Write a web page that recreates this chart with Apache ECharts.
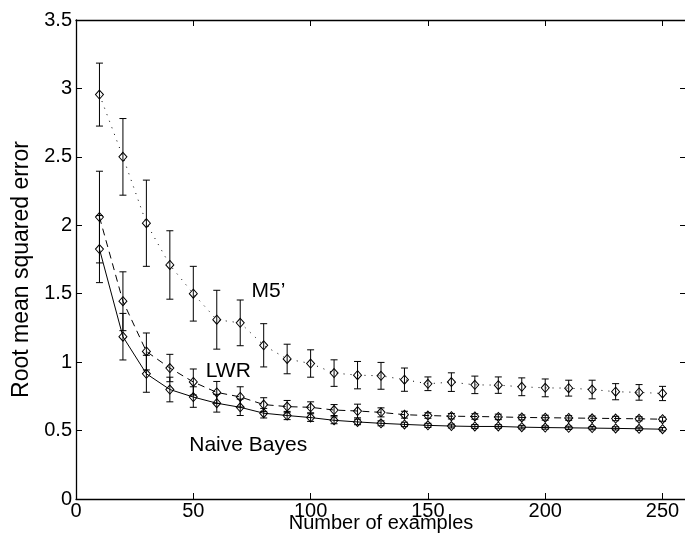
<!DOCTYPE html>
<html>
<head>
<meta charset="utf-8">
<script src="https://cdn.jsdelivr.net/npm/echarts@6/dist/echarts.min.js"></script>
<style>html,body{margin:0;padding:0;background:#fff}#c{width:685px;height:533px}</style>
</head>
<body>
<div id="c"></div>
<script>
var examples = [10,20,30,40,50,60,70,80,90,100,110,120,130,140,150,160,170,180,190,200,210,220,230,240,250];
var m5Mean = [2.955,2.50,2.015,1.71,1.50,1.31,1.287,1.123,1.023,0.99,0.92,0.905,0.90,0.872,0.842,0.854,0.834,0.832,0.82,0.812,0.81,0.80,0.784,0.779,0.771];
var m5Err  = [0.23,0.28,0.315,0.25,0.20,0.215,0.167,0.158,0.108,0.10,0.097,0.10,0.098,0.085,0.05,0.068,0.064,0.06,0.065,0.065,0.058,0.068,0.059,0.057,0.052];
var lwrMean = [2.06,1.445,1.078,0.957,0.855,0.779,0.746,0.69,0.675,0.67,0.65,0.643,0.633,0.616,0.61,0.605,0.603,0.60,0.596,0.594,0.592,0.59,0.588,0.586,0.583];
var lwrErr  = [0.335,0.215,0.135,0.10,0.095,0.08,0.074,0.05,0.045,0.04,0.04,0.05,0.033,0.025,0.02,0.02,0.02,0.02,0.018,0.018,0.017,0.016,0.016,0.015,0.015];
var nbMean = [1.826,1.186,0.915,0.80,0.745,0.70,0.67,0.627,0.61,0.595,0.575,0.563,0.553,0.545,0.538,0.533,0.53,0.53,0.525,0.522,0.52,0.518,0.516,0.513,0.51];
var nbErr  = [0.245,0.17,0.135,0.09,0.075,0.065,0.06,0.035,0.03,0.028,0.025,0.02,0.018,0.016,0.015,0.014,0.014,0.013,0.013,0.012,0.012,0.012,0.012,0.012,0.012];
var xTicks = [0,50,100,150,200,250];
var yTicks = [0,0.5,1,1.5,2,2.5,3,3.5];
var seriesNames = ["M5’","LWR","Naive Bayes"];
var annotations = [[82,1.515,"M5’"],[64.9,0.934,"LWR"],[73.4,0.392,"Naive Bayes"]];

var FONT = 'Liberation Sans';
function pts(mean){ return examples.map(function(x,i){return [x, mean[i]];}); }
function bars(mean, err){ return examples.map(function(x,i){return [x, mean[i]-err[i], mean[i]+err[i]];}); }

function renderErr(params, api){
  var x = api.value(0);
  var lo = api.coord([x, api.value(1)]);
  var hi = api.coord([x, api.value(2)]);
  var h = 3.5;
  var st = {stroke:'#000', lineWidth:1};
  return {type:'group', children:[
    {type:'line', shape:{x1:lo[0],y1:lo[1],x2:hi[0],y2:hi[1]}, style:st},
    {type:'line', shape:{x1:lo[0]-h,y1:lo[1],x2:lo[0]+h,y2:lo[1]}, style:st},
    {type:'line', shape:{x1:hi[0]-h,y1:hi[1],x2:hi[0]+h,y2:hi[1]}, style:st}
  ]};
}
function renderText(params, api){
  var p = api.coord([api.value(0), api.value(1)]);
  return {type:'text', x:p[0], y:p[1], style:{text:annotations[params.dataIndex][2], fill:'#000',
    font:'21px "' + FONT + '"', align:'center', verticalAlign:'middle'}};
}

function lineSeries(name, mean, type){
  return {
    name:name, type:'line', data:pts(mean), symbol:'diamond', symbolSize:[8,9],
    showAllSymbol:true, z:3,
    lineStyle:{color:'#000', width:1, type:type},
    itemStyle:{color:'rgba(255,255,255,0)', borderColor:'#000', borderWidth:1},
    emphasis:{disabled:true}, animation:false
  };
}
function errSeries(mean, err){
  return {type:'custom', renderItem:renderErr, data:bars(mean, err), z:2, animation:false, silent:true,
    encode:{x:0, y:[1,2]}};
}

var axisLineStyle = {color:'#000', width:1.3};
var chart = echarts.init(document.getElementById('c'), null, {renderer:'canvas'});
chart.setOption({
  animation:false,
  backgroundColor:'#fff',
  grid:{left:76, top:20, width:610, bottom:34, show:false, containLabel:false, outerBoundsMode:'none'},
  xAxis:[{
    type:'value', min:0, max:260, interval:50, position:'bottom',
    axisLine:{show:true, onZero:false, lineStyle:axisLineStyle},
    axisTick:{show:true, inside:true, length:6, lineStyle:{color:'#000', width:1}},
    axisLabel:{color:'#000', fontFamily:FONT, fontSize:20, margin:2,
      formatter:function(v){ return xTicks.indexOf(v) >= 0 ? String(v) : ''; }},
    splitLine:{show:false},
    name:'Number of examples', nameLocation:'middle', nameGap:14, nameMoveOverlap:false,
    nameTextStyle:{color:'#000', fontFamily:FONT, fontSize:20}
  },{
    type:'value', min:0, max:260, interval:50, position:'top',
    axisLine:{show:true, onZero:false, lineStyle:axisLineStyle},
    axisTick:{show:true, inside:true, length:6, lineStyle:{color:'#000', width:1}},
    axisLabel:{show:false}, splitLine:{show:false}
  }],
  yAxis:[{
    type:'value', min:0, max:3.5, interval:0.5, position:'left',
    axisLine:{show:true, onZero:false, lineStyle:axisLineStyle},
    axisTick:{show:true, inside:true, length:6, lineStyle:{color:'#000', width:1}},
    axisLabel:{color:'#000', fontFamily:FONT, fontSize:20, margin:4,
      formatter:function(v){ return yTicks.indexOf(v) >= 0 ? String(v) : ''; }},
    splitLine:{show:false},
    name:'Root mean squared error', nameLocation:'middle', nameGap:43, nameRotate:90, nameMoveOverlap:false,
    nameTextStyle:{color:'#000', fontFamily:FONT, fontSize:23, padding:[0,20,0,0]}
  },{
    type:'value', min:0, max:3.5, interval:0.5, position:'right',
    axisLine:{show:true, onZero:false, lineStyle:axisLineStyle},
    axisTick:{show:true, inside:true, length:6, lineStyle:{color:'#000', width:1}},
    axisLabel:{show:false}, splitLine:{show:false}
  }],
  series:[
    errSeries(m5Mean, m5Err),
    errSeries(lwrMean, lwrErr),
    errSeries(nbMean, nbErr),
    lineSeries(seriesNames[0], m5Mean, [1,6]),
    lineSeries(seriesNames[1], lwrMean, [7,5]),
    lineSeries(seriesNames[2], nbMean, 'solid'),
    {type:'custom', renderItem:renderText, data:annotations.map(function(a){return [a[0], a[1]];}),
      z:5, silent:true, animation:false, encode:{x:0, y:1}}
  ]
});
</script>
</body>
</html>
